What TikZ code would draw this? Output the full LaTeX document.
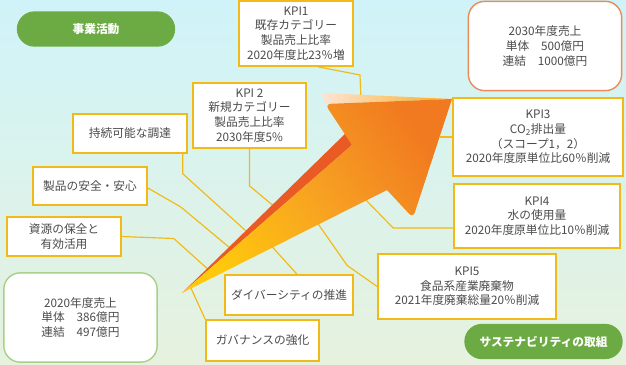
\documentclass[tikz,border=0pt]{standalone}
\usepackage{fontspec}
\setmainfont{Noto Sans CJK JP}
\usetikzlibrary{calc}
\definecolor{kpiline}{RGB}{242,186,22}
\definecolor{txt}{RGB}{75,75,75}
\definecolor{pill}{RGB}{108,170,68}
\definecolor{goal}{RGB}{232,140,88}
\definecolor{now}{RGB}{168,208,140}
\definecolor{skytop}{RGB}{208,243,249}
\definecolor{skybot}{RGB}{230,242,222}
\definecolor{arrY}{RGB}{255,200,12}
\definecolor{arrO}{RGB}{247,162,34}
\definecolor{arrR}{RGB}{241,122,32}
\definecolor{arrS}{RGB}{234,90,36}
\definecolor{arrH}{RGB}{252,228,214}

\begin{document}
\begin{tikzpicture}[
      x=0.03cm, y=-0.03cm,
      font=\fontsize{10}{12.5}\selectfont,
      kpi/.style={rectangle, draw=kpiline, line width=1.4pt, fill=white,
                  text=txt, align=center, inner sep=0pt},
      sales/.style={rectangle, rounded corners=14pt, line width=1.2pt, fill=white,
                    text=txt, align=center, minimum width=4.6cm, minimum height=2.68cm},
      pillbox/.style={rectangle, rounded corners=0.53cm, fill=pill, text=white,
                      font=\fontsize{10}{12}\selectfont\bfseries,
                      minimum width=4.75cm, minimum height=1.06cm},
      link/.style={draw=kpiline, line width=1pt}
    ]
    \useasboundingbox (0,0) rectangle (626,364);
    \fill[top color=skytop, bottom color=skybot] (0,0) rectangle (626,364);

    \coordinate (tail) at (182,293);
    \coordinate (nl) at (352,145);
    \coordinate (bl) at (325,104);
    \coordinate (tip) at (452,99);
    \coordinate (br) at (413,218);
    \coordinate (nr) at (387,190);

    \coordinate (k1b) at (360,75);
    \coordinate (k1e) at (361,100);
    \coordinate (k2e) at (276,208);
    \coordinate (c3e) at (246,231);
    \coordinate (a4e) at (236,253);
    \coordinate (s5e) at (211,272);
    \coordinate (d6e) at (266,240);
    \coordinate (g7e) at (190,286);
    \coordinate (k8e) at (440,137);
    \coordinate (k9e) at (364,198);
    \coordinate (k10e) at (314,218);

    \node[pillbox] (jigyo) at (96,29) {事業活動};
    \node[pillbox] (torikumi) at (543.5,341.5) {サステナビリティの取組};

    \node[kpi, minimum width=3.42cm, minimum height=1.95cm] (kpi1) at (296,33.5) {KPI1\\既存カテゴリー\\製品売上比率\\2020年度比23％増};
    \node[kpi, minimum width=3.39cm, minimum height=1.95cm] (kpi2) at (249.5,115.5) {KPI 2\\新規カテゴリー\\製品売上比率\\2030年度5\%};
    \node[kpi, minimum width=5.1cm, minimum height=2.34cm] (kpi3) at (538,137) {KPI3\\CO\textsubscript{2}排出量\\（スコープ1，2）\\2020年度原単位比60％削減};
    \node[kpi, minimum width=4.98cm, minimum height=1.92cm] (kpi4) at (537,216) {KPI4\\水の使用量\\2020年度原単位比10％削減};
    \node[kpi, minimum width=5.34cm, minimum height=1.95cm] (kpi5) at (467,286.5) {KPI5\\食品系産業廃棄物\\2021年度廃棄総量20％削減};

    \node[kpi, minimum width=3.42cm, minimum height=1.17cm] (chotatsu) at (130,133.5) {持続可能な調達};
    \node[kpi, minimum width=3.42cm, minimum height=1.14cm] (anzen) at (90,186) {製品の安全・安心};
    \node[kpi, minimum width=3.42cm, minimum height=1.17cm] (shigen) at (64,236.5) {資源の保全と\\有効活用};
    \node[kpi, minimum width=3.84cm, minimum height=1.2cm] (diversity) at (289,295) {ダイバーシティの推進};
    \node[kpi, minimum width=3.39cm, minimum height=1.23cm] (gov) at (262.5,340.5) {ガバナンスの強化};

    \node[sales, draw=goal] (goal2030) at (545,46) {2030年度売上\\単体　500億円\\連結　1000億円};
    \node[sales, draw=now] (now2020) at (80.5,317.5) {2020年度売上\\単体　386億円\\連結　497億円};

    \draw[link] ($(kpi1.south)+(22,0)$) -- (k1b) -- (k1e);
    \draw[link] (kpi2.south) -- ++(0,37) -- (k2e);
    \draw[link] ($(chotatsu.south east)+(-5,0)$) -- ++(0,20) -- (c3e);
    \draw[link] ($(anzen.east)+(0,2)$) -- ++(33,19) -- (a4e);
    \draw[link] (shigen.east) -- ++(52,2) -- (s5e);
    \draw[link] ($(diversity.north)+(8,0)$) -- (d6e);
    \draw[link] (gov.north west) -- (g7e);
    \draw[link] (kpi3.west) -- (k8e);
    \draw[link] ($(kpi4.west)+(0,12)$) -- ++(-60,0) -- (k9e);
    \draw[link] (kpi5.west) -- ++(-30,-21) -- (k10e);

    \fill[arrS] (tail) -- (nl) -- ($(nl)+(-5,-13)$) -- cycle;
    \shade[left color=arrH, right color=arrO!70!arrY] (bl) -- ($(bl)+(-3,-11)$) -- (tip) -- cycle;
    \shade[left color=arrY, right color=arrR, middle color=arrO, shading angle=126]
      (tail) -- (nl) [rounded corners=5pt] -- (bl) [sharp corners] -- (tip)
      [rounded corners=5pt] -- (br) [sharp corners] -- (nr) -- cycle;
  \end{tikzpicture}
\end{document}
